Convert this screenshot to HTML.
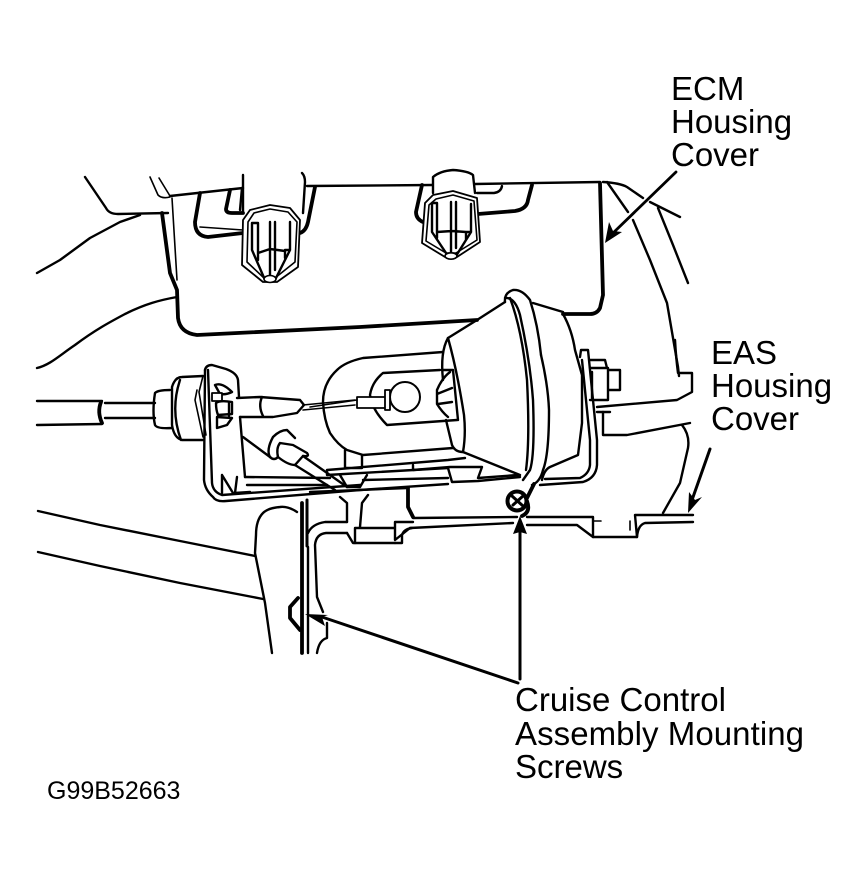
<!DOCTYPE html>
<html><head><meta charset="utf-8"><style>
html,body{margin:0;padding:0;background:#fff}
svg{display:block}
text{font-family:"Liberation Sans",sans-serif;fill:#000}
.t{fill:none;stroke:#000;stroke-width:1.6;stroke-linejoin:round;stroke-linecap:round}
.m{fill:none;stroke:#000;stroke-width:2.4;stroke-linejoin:round;stroke-linecap:round}
.k{fill:none;stroke:#000;stroke-width:3.8;stroke-linejoin:round;stroke-linecap:round}
.w{fill:#fff;stroke:#000;stroke-width:1.8;stroke-linejoin:round}
</style></head><body>
<svg width="867" height="874" viewBox="0 0 867 874" xmlns="http://www.w3.org/2000/svg">
<!-- background curves -->
<path class="m" d="M85,177L106,208Q109,214 118,214L168,213"/>
<path class="m" d="M37,273L60,260 90,238 120,222 140,215"/>
<path class="m" d="M37,368C50,365 60,355 75,345C95,330 110,322 125,314C145,304 160,300 177,297"/>
<path class="t" d="M150,177L158,195Q162,199 170,197M159,178L170,196"/>
<path class="m" d="M607,182L628,212M633,220L650,260 667,303 678,367 679,376"/>
<path class="m" d="M603,182Q620,183 627,187L643,198M650,202L680,217M658,208L673,245 688,283"/>
<!-- cover -->
<path class="m" d="M170,196L243,188M307,186L432,185M475,184L600,182"/>
<path class="k" d="M162,213L170,273 177,290 178,318Q180,333 197,335L360,327 477,320"/>
<path class="k" d="M563,314L590,314Q597,314 600,308L603,295 600,183"/>
<path class="t" d="M172,198L177,280"/>
<!-- left slots -->
<path class="k" d="M200,193L195,222Q195,236 208,237L243,233"/>
<path class="t" d="M200,227L243,230"/>
<path class="k" d="M230,190L226,209Q226,213 232,213L243,213"/>
<path class="m" d="M242,188L240,210"/>
<!-- knob 1 -->
<path class="m" d="M243,175L243,212M302,173Q305,176 305,182L303,213"/>
<path class="k" d="M315,187L308,222Q306,231 300,233"/>
<path class="w" stroke-width="2.2" d="M242,265L243,220 250,210 270,205 290,208 300,220 298,267 277,282 263,282Z"/>
<path class="t" d="M247,262L248,222 254,213 270,209 288,212 297,222 295,262 275,278 264,278Z"/>
<path class="m" d="M252,250V223H258V260M270,222V278M275,222V270M290,222V250H285V258M252,250L265,280M290,250L275,280M258,253L270,249 285,251"/>
<ellipse cx="270" cy="279" rx="6" ry="3.5" fill="#fff" stroke="#000" stroke-width="1.6"/>
<!-- knob 2 -->
<path class="k" d="M422,185L416,212Q416,219 423,222"/>
<path class="m" d="M433,193V177Q440,171 453,170Q468,171 473,175L475,193"/>
<path class="m" d="M477,193H494Q501,192 502,186"/>
<path class="k" d="M478,214L515,211Q527,209 528,200L532,185"/>
<path class="w" stroke-width="2.2" d="M422,243L425,203 433,195 453,191 477,198 480,242 457,257 445,257Z"/>
<path class="t" d="M426,241L429,205 436,199 453,195 474,201 477,240 456,253 446,253Z"/>
<path class="m" d="M432,232V203H437V238M451,202V255M456,202V248M471,204V232H466V240M432,232L448,256M471,232L456,256M437,232L452,231 466,232"/>
<ellipse cx="451" cy="256" rx="6" ry="3.2" fill="#fff" stroke="#000" stroke-width="1.6"/>
<!-- long arrow ecm -->
<path class="m" style="stroke-width:2.8" d="M676,172L612,234"/>
<path d="M605,243L609,222 613,231 622,232Z" fill="#000"/>
<!-- left cable -->
<path class="m" d="M37,401H102M37,425L102,424M105,403H155M105,418H155"/>
<path class="k" d="M101,402Q97,412 102,423"/>
<path class="m" d="M155,393Q158,390 170,390M155,393Q152,412 155,425Q157,429 172,428"/>
<path class="m" d="M172,387Q175,377 182,377L203,376M172,387V425Q174,438 182,440L203,440M180,380Q170,410 181,440"/>
<path class="t" d="M197,390L195,400 203,437M203,376L199,392 206,435"/>
<!-- bracket left -->
<path class="m" d="M205,370Q206,365 212,365L226,369Q237,373 238,380L239,397M240,417L245,477"/>
<path class="m" d="M205,370L204,480Q205,490 213,497Q216,502 226,501L360,490 448,484"/>
<path class="m" d="M208,370L212,483Q213,492 222,495L360,485"/>
<path class="m" d="M245,477L330,478M247,485L327,485"/>
<path class="m" d="M222,475L233,493M222,475V493M237,477L235,493 250,492"/>
<path class="m" d="M215,385Q222,382 232,392Q226,395 220,394L215,385ZM217,417L232,418 227,425 217,428Z"/>
<path class="w" d="M212,393H222V401H212Z"/>
<path class="m" d="M216,403Q220,400 232,402V414L218,415Q216,410 216,403Z"/>
<path class="m" d="M229,402V416"/>
<path class="m" d="M237,398L260,397 300,400 304,405 297,413 273,417 240,417"/>
<path class="m" d="M262,397Q258,406 263,416"/>
<path class="t" d="M303,405L355,400M303,410L355,405"/>
<!-- second connector -->
<path class="m" d="M243,437L270,457"/>
<path class="m" d="M270,457Q266,450 273,437Q280,430 287,430L295,438"/>
<path class="m" d="M280,443L293,445 307,453Q310,457 303,456 L295,465Q288,465 278,457Q276,448 280,443Z"/>
<path class="m" d="M270,457Q274,461 278,457"/>
<path class="m" d="M303,456L347,487M295,465L335,490"/>
<!-- housing -->
<path class="m" d="M443,352L363,358Q345,362 337,370Q323,383 323,402Q324,420 330,433Q338,445 347,450L363,455 453,448"/>
<path class="m" d="M383,373L440,370M383,373Q372,382 370,395Q372,410 387,425L457,420"/>
<circle cx="405" cy="397" r="15" fill="#fff" stroke="#000" stroke-width="2"/>
<path class="w" stroke-width="2.2" d="M357,397H387V408H357Z"/>
<path class="w" stroke-width="2" d="M385,390H390V410H385Z"/>
<path class="t" d="M310,407L357,400"/>
<path class="m" d="M442,370H453L458,420M453,370L450,370"/>
<path class="m" d="M437,390Q442,378 450,372M437,390V404Q442,412 448,417M437,394L452,388M438,404L452,402"/>
<!-- cone -->
<path class="m" d="M505,302L477,320 448,338Q440,352 443,380"/>
<path class="m" d="M448,338Q457,370 464,415Q466,435 463,452Q455,452 452,445L446,420"/>
<path class="m" d="M463,452L520,475"/>
<path class="m" d="M505,302Q504,293 513,290Q522,289 530,300Q538,325 541,355"/>
<path class="m" d="M505,298Q515,297 520,315Q530,360 533,400 Q535,455 530,470L523,480"/>
<path class="m" d="M510,298Q522,330 527,380Q530,440 526,470"/>
<path class="m" d="M533,303L563,312M563,314Q572,330 575,350L582,375V423L578,455L550,467Q544,470 542,480"/>
<path class="m" d="M541,355Q548,385 549,410Q549,455 543,470Q540,482 532,485"/>
<!-- bracket right -->
<path class="m" d="M580,357L581,350H588L597,440V465Q596,478 583,482L540,485"/>
<path class="m" d="M582,360L590,440V465Q589,474 580,478L545,479"/>
<path class="m" d="M590,360H605L607,368M590,368H608V400H590M608,370H620V390H608"/>
<path class="m" d="M592,372V398"/>
<path class="m" d="M597,407L677,400 692,392V373H678Q676,358 675,340"/>
<path class="m" d="M603,412V435H627L690,423"/>
<path class="m" d="M597,412H610"/>
<path class="m" d="M682,425Q690,435 688,448L680,483 663,513"/>
<!-- lower plate -->
<path class="m" d="M345,450V468H362V455M327,470L448,460 465,458M327,470V475L448,468"/>
<path class="m" d="M413,465V470L450,467H482L478,478 518,475"/>
<path class="m" d="M448,468L452,482 478,481 520,477"/>
<path class="m" d="M363,480L448,478"/>
<path class="m" d="M340,475L347,487H360L367,475"/>
<path class="m" d="M310,492L407,488"/>
<path class="m" d="M340,497L347,503V522M368,495L362,503 360,527"/>
<path class="k" d="M408,488V507L413,517"/>
<!-- floor -->
<path class="m" d="M413,518L517,517M527,517H593V537H637L635,515H693"/>
<path class="m" d="M410,528L513,523M527,525H577L593,537M637,537Q638,525 645,523L693,522"/>
<path class="m" d="M395,522H413M395,522V540L410,528M395,543H355V528H395"/>
<path class="m" d="M402,543V535Q404,529 412,528M395,543H402"/>
<path class="m" d="M347,522H325Q312,524 308,533"/>
<path class="m" d="M347,533H326Q316,534 315,545L317,597 323,612"/>
<path class="m" d="M347,533L353,543H355"/>
<path class="t" d="M593,521H601M630,521V530"/>
<!-- screw -->
<circle cx="517" cy="501" r="9.5" fill="#fff" stroke="#000" stroke-width="4"/>
<path class="k" d="M512,496L523,506M523,496L513,505" style="stroke-width:3"/>
<path class="k" d="M527,501Q531,512 522,516M534,484L527,498"/>
<!-- thick vertical -->
<path class="k" d="M302,503V653"/>
<path class="k" d="M307,500V546" style="stroke-width:3"/>
<path class="m" d="M308,547V653"/>
<path class="m" d="M327,623V638Q319,640 317,653"/>
<path class="k" d="M298,598L290,607V618L300,630"/>
<!-- fender -->
<path class="m" d="M297,512Q288,506 280,507Q268,508 263,513Q256,520 256,535L255,553 265,603 272,653"/>
<path class="m" d="M38,511L100,525 180,541 255,556"/>
<path class="m" d="M38,552L100,566 180,583 263,599"/>
<!-- arrows -->
<path class="m" style="stroke-width:3" d="M518,683L322,617"/>
<path d="M305,614L328,615 322,617 325,626Z" fill="#000"/>
<path class="m" style="stroke-width:3" d="M520,679V530"/>
<path d="M520,516L527,534 520,532 513,534Z" fill="#000"/>
<path class="m" style="stroke-width:3" d="M710,449L692,500"/>
<path d="M688,513L689,492 695,500 702,497Z" fill="#000"/>
<!-- labels -->
<text font-size="33" x="671" y="100">ECM</text>
<text font-size="33" x="671" y="133">Housing</text>
<text font-size="33" x="671" y="166">Cover</text>
<text font-size="33" x="711" y="364">EAS</text>
<text font-size="33" x="711" y="397">Housing</text>
<text font-size="33" x="711" y="430">Cover</text>
<text font-size="33" x="515" y="711">Cruise Control</text>
<text font-size="33" x="515" y="745" textLength="289">Assembly Mounting</text>
<text font-size="33" x="515" y="778">Screws</text>
<text font-size="25" x="47" y="799">G99B52663</text>
</svg>
</body></html>
